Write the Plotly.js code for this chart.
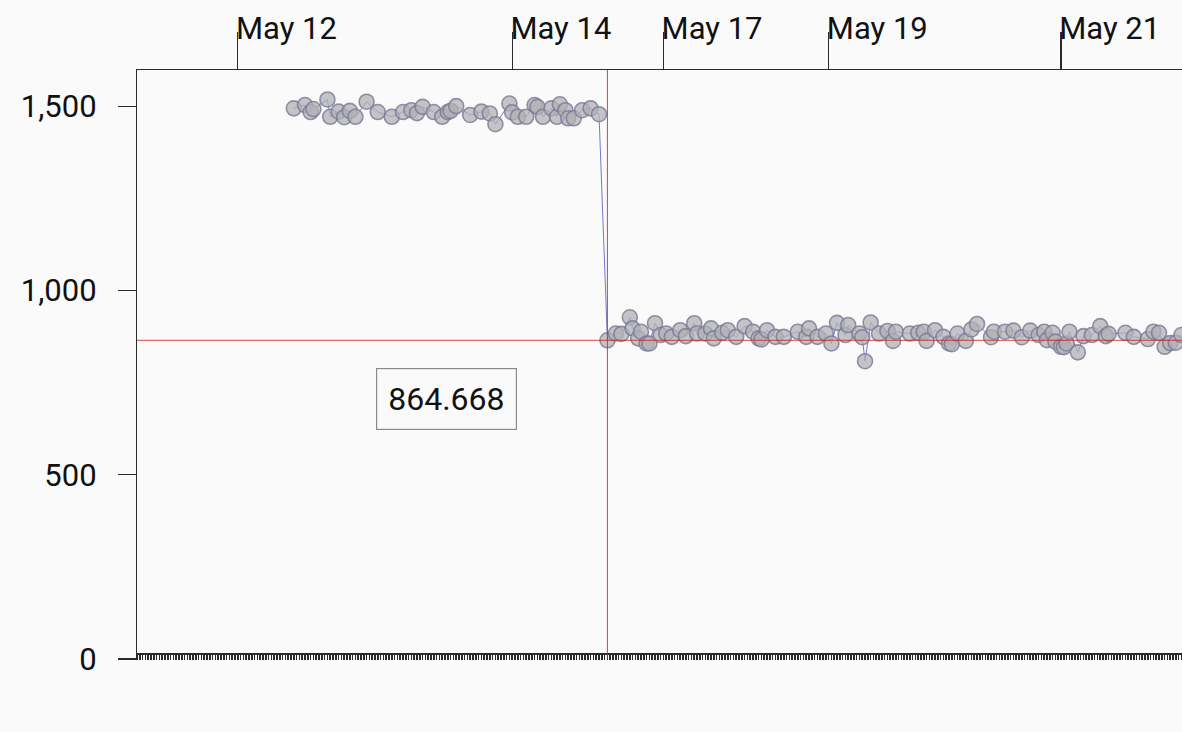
<!DOCTYPE html>
<html>
<head>
<meta charset="utf-8">
<script src="https://cdn.plot.ly/plotly-3.0.1.min.js"></script>
<style>
  html, body { margin: 0; padding: 0; background: #fafafa; }
  #chart { width: 1182px; height: 732px; }
</style>
</head>
<body>
<div id="chart"></div>
<script>
const beforeX = [56, 60, 62, 63, 68, 69, 72, 74, 76, 78, 82, 86, 91, 95, 98, 100, 102, 106, 109, 111,
    112, 114, 119, 123, 126, 128, 133, 134, 136, 139, 142, 143, 145, 148, 150, 151, 153, 154, 156, 159, 162, 165];
const beforeY = [1494, 1503, 1484, 1492, 1518, 1471, 1485, 1470, 1487, 1471, 1512, 1484, 1471, 1484, 1489, 1481, 1498, 1484, 1471, 1484,
    1487, 1500, 1476, 1485, 1480, 1451, 1507, 1483, 1471, 1471, 1503, 1498, 1471, 1494, 1471, 1505, 1489, 1467, 1467, 1489, 1494, 1478];

const afterX = [168, 171, 173, 176, 177, 179, 180, 182, 183, 185, 187, 189, 191, 194, 196, 199, 200, 203, 205, 206,
    209, 211, 214, 217, 220, 222, 223, 225, 228, 231, 236, 239, 240, 243, 246, 248, 250, 253, 254, 258,
    259, 260, 262, 265, 268, 270, 271, 276, 279, 281, 282, 285, 288, 290, 291, 293, 296, 298, 300, 305,
    306, 310, 313, 316, 319, 322, 324, 325, 327, 328, 330, 331, 332, 333, 336, 338, 341, 344, 346, 347,
    353, 356, 361, 363, 365, 367, 369, 371, 373];
const afterY = [864.668, 883, 882, 927, 897, 870, 888, 856, 856, 911, 879, 883, 874, 892, 876, 911, 883, 883, 897, 870,
    885, 892, 874, 903, 888, 870, 867, 892, 874, 874, 888, 874, 897, 874, 883, 856, 912, 879, 906, 883,
    873, 808, 913, 883, 890, 863, 888, 883, 885, 888, 863, 892, 874, 856, 854, 883, 863, 894, 909, 873,
    888, 888, 891, 873, 891, 879, 888, 865, 885, 861, 847, 846, 856, 888, 832, 876, 879, 903, 876, 882,
    885, 874, 868, 888, 885, 847, 857, 858, 879];

const dateTickIdx = [36, 134, 188, 247, 330];
const dateTickText = ['May 12', 'May 14', 'May 17', 'May 19', 'May 21'];
const yTicks = [0, 500, 1000, 1500];
const xSpan = [0, 373.2];
const ySpan = [0, 1598];

const theme = {
    bg: '#fafafa',
    axis: '#2a2a2a',
    text: '#111111',
    marker: 'rgba(178, 178, 180, 0.75)',
    markerLine: 'rgba(120, 120, 152, 0.8)',
    line: 'rgba(105, 105, 200, 0.9)',
    cross: 'rgba(210, 35, 35, 0.85)'
};

// crosshair sits on the first point after the drop
const crossX = afterX[0];
const crossY = afterY[0];

const series = {
    x: beforeX.concat(afterX),
    y: beforeY.concat(afterY),
    type: 'scatter',
    mode: 'lines+markers',
    line: { color: theme.line, width: 1 },
    marker: { size: 15, color: theme.marker, line: { color: theme.markerLine, width: 1.6 } },
    hoverinfo: 'x+y'
};

// empty trace so the dense bottom tick axis gets its own subplot
const rugAxis = { x: [], y: [], xaxis: 'x2', yaxis: 'y', type: 'scatter', hoverinfo: 'skip' };

const layout = {
    width: 1182,
    height: 732,
    paper_bgcolor: theme.bg,
    plot_bgcolor: theme.bg,
    margin: { l: 137, r: 0, t: 70, b: 73 },
    showlegend: false,
    font: { family: 'Roboto, sans-serif', size: 31, color: theme.text },
    xaxis: {
        side: 'top',
        range: xSpan,
        tickmode: 'array',
        tickvals: dateTickIdx,
        ticktext: dateTickText,
        ticks: 'outside',
        ticklen: 37,
        tickwidth: 1.2,
        tickcolor: theme.axis,
        ticklabelposition: 'outside right',
        ticklabelstandoff: 17,
        ticklabelshift: -3,
        showline: true,
        linecolor: theme.axis,
        linewidth: 1.2,
        showgrid: false,
        zeroline: false
    },
    xaxis2: {
        overlaying: 'x',
        anchor: 'free',
        position: 0.0102,
        side: 'bottom',
        range: xSpan,
        tickmode: 'linear',
        tick0: 0,
        dtick: 1,
        ticks: 'outside',
        ticklen: 5,
        tickwidth: 1.5,
        tickcolor: theme.axis,
        showticklabels: false,
        showline: true,
        linecolor: theme.axis,
        linewidth: 1.8,
        showgrid: false,
        zeroline: false
    },
    yaxis: {
        range: ySpan,
        tickmode: 'array',
        tickvals: yTicks,
        tickformat: ',',
        ticks: 'outside',
        ticklen: 18,
        tickwidth: 1.2,
        tickcolor: theme.axis,
        ticklabelstandoff: 15,
        showline: true,
        linecolor: theme.axis,
        linewidth: 1.2,
        showgrid: false,
        zeroline: false
    },
    shapes: [
        { type: 'line', xref: 'paper', x0: 0, x1: 1, yref: 'y', y0: crossY, y1: crossY,
          line: { color: theme.cross, width: 1 } },
        { type: 'line', xref: 'x', x0: crossX, x1: crossX, yref: 'paper', y0: 0, y1: 1,
          line: { color: theme.cross, width: 1 } }
    ],
    annotations: [{
        xref: 'paper', yref: 'paper', x: 0.296, y: 0.441,
        xanchor: 'center', yanchor: 'middle',
        text: String(crossY),
        showarrow: false,
        font: { size: 32, color: theme.text },
        bgcolor: theme.bg,
        bordercolor: '#8a8a8a',
        borderwidth: 1.2,
        borderpad: 11
    }]
};

Plotly.newPlot('chart', [series, rugAxis], layout, { displayModeBar: false, staticPlot: true });
</script>
</body>
</html>
